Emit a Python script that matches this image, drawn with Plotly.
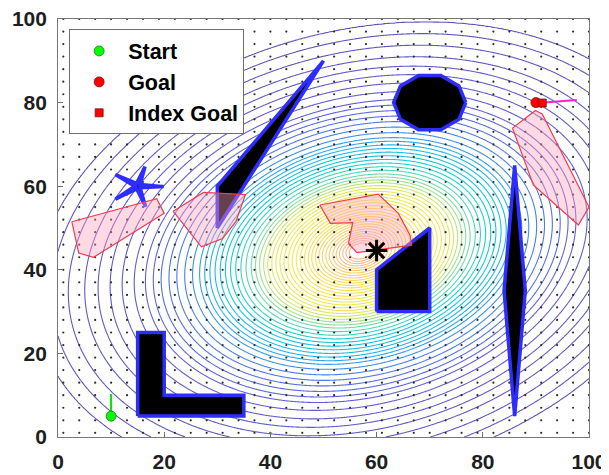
import numpy as np
import plotly.graph_objects as go

# ---------------- data ----------------
tick_vals = [0, 20, 40, 60, 80, 100]
tick_text = ["0", "20", "40", "60", "80", "100"]

# potential field (elliptical levels around the target)
field_center = (57.0, 44.5)
field_b = -0.2244          # cross term
field_c = 1.2506           # dy^2 weight (dx^2 weight = 1)
r_anchor = [0, 2, 5, 10, 20, 30, 40, 50, 60, 70]
level_anchor = [52.2, 52.2, 47.2, 39.5, 26.2, 15.7, 8.8, 4.3, 1.0, 0.0]

# background grid of dots
dot_ticks = [1, 4, 7, 10, 13, 16, 19, 22, 25, 28, 31, 34, 37, 40, 43, 46, 49,
             52, 55, 58, 61, 64, 67, 70, 73, 76, 79, 82, 85, 88, 91, 94, 97, 100]

start_x, start_y = [10], [5]
start_dir_x, start_dir_y = [10, 10], [5, 10.3]
goal_x, goal_y = [90.0], [80.0]
index_goal_x, index_goal_y = [91.2], [79.9]
goal_dir_x, goal_dir_y = [91.6, 97.7], [80.0, 80.6]
target_x, target_y = [60], [44.6]

# obstacles (black with blue border)
obs_L_x = [15, 35, 35, 20, 20, 15]
obs_L_y = [5, 5, 10, 10, 25, 25]
obs_trap_x = [60, 70, 70, 60]
obs_trap_y = [30, 30, 50, 40]
obs_diamond_x = [86, 88, 86, 84]
obs_diamond_y = [5, 35, 65, 35]
obs_wedge_x = [30, 30, 50]
obs_wedge_y = [50, 60, 90]
obs_round_x = [76.8, 75.5, 72.1, 67.9, 64.5, 63.2, 64.5, 67.9, 72.1, 75.5]
obs_round_y = [80.0, 84.0, 86.5, 86.5, 84.0, 80.0, 76.0, 73.5, 73.5, 76.0]
obs_star_x = [16.4, 15.46, 19.9, 15.47, 16.5, 14.82, 10.8, 14.44, 10.8, 14.8]
obs_star_y = [64.7, 60.41, 59.9, 59.6, 55.1, 59.32, 56.9, 59.99, 62.8, 60.67]

# pink regions
pinkA_x = [2.6, 18.6, 20.0, 6.7, 3.9]
pinkA_y = [51.5, 57.0, 53.5, 43.0, 44.0]
pinkB_x = [21.7, 27.4, 35.3, 33.5, 31.0, 27.0]
pinkB_y = [54.0, 58.5, 58.0, 51.5, 47.5, 45.5]
pinkC_x = [49.3, 60.3, 64.1, 66.3, 66.6, 56.3, 54.7, 55.5, 51.3]
pinkC_y = [55.5, 58.1, 53.5, 48.3, 45.9, 44.1, 46.3, 51.3, 51.1]
pinkD_x = [89.9, 85.6, 89.5, 98.0, 100.0, 91.2]
pinkD_y = [78.1, 73.9, 60.3, 50.7, 55.0, 77.3]

# ---------------- figure ----------------
FONT = "Liberation Sans, Arial, sans-serif"
fig = go.Figure()

gx = np.linspace(0, 100, 401)
gy = np.linspace(0, 100, 401)
X, Y = np.meshgrid(gx, gy)
dx = X - field_center[0]
dy = Y - field_center[1]
R = np.sqrt(np.maximum(dx**2 + 2*field_b*dx*dy + field_c*dy**2, 0))
Z = np.round(np.interp(R, r_anchor, level_anchor), 3)

cscale = [
    [0.00, "rgb(95,85,185)"],
    [0.15, "rgb(100,95,210)"],
    [0.24, "rgb(80,120,235)"],
    [0.33, "rgb(35,180,235)"],
    [0.42, "rgb(15,208,212)"],
    [0.50, "rgb(120,222,165)"],
    [0.58, "rgb(225,232,95)"],
    [0.70, "rgb(250,232,70)"],
    [0.86, "rgb(250,212,100)"],
    [1.00, "rgb(248,180,150)"],
]
fig.add_trace(go.Contour(
    x=gx, y=gy, z=Z, colorscale=cscale, zmin=0, zmax=52.2,
    contours=dict(coloring="lines", start=1, end=52, size=1),
    line=dict(width=1.1, smoothing=0.8), showscale=False,
    hoverinfo="skip", showlegend=False))

DX, DY = np.meshgrid(dot_ticks, dot_ticks)
fig.add_trace(go.Scatter(x=DX.ravel(), y=DY.ravel(), mode="markers",
                         marker=dict(size=2.2, color="rgb(45,45,45)"),
                         hoverinfo="skip", showlegend=False))

for ox, oy in [(obs_L_x, obs_L_y), (obs_trap_x, obs_trap_y),
               (obs_diamond_x, obs_diamond_y), (obs_wedge_x, obs_wedge_y),
               (obs_round_x, obs_round_y), (obs_star_x, obs_star_y)]:
    fig.add_trace(go.Scatter(x=ox + [ox[0]], y=oy + [oy[0]], mode="lines",
                             fill="toself", fillcolor="black",
                             line=dict(color="rgb(45,45,255)", width=3.5),
                             hoverinfo="skip", showlegend=False))

for px, py in [(pinkA_x, pinkA_y), (pinkB_x, pinkB_y),
               (pinkC_x, pinkC_y), (pinkD_x, pinkD_y)]:
    fig.add_trace(go.Scatter(x=px + [px[0]], y=py + [py[0]], mode="lines",
                             fill="toself", fillcolor="rgba(255,160,185,0.4)",
                             line=dict(color="rgb(240,60,80)", width=1.2),
                             hoverinfo="skip", showlegend=False))

fig.add_trace(go.Scatter(x=target_x, y=target_y, mode="markers",
                         marker=dict(symbol="asterisk-open", size=18, color="black",
                                     line=dict(color="black", width=3)),
                         hoverinfo="skip", showlegend=False))

fig.add_trace(go.Scatter(x=start_dir_x, y=start_dir_y, mode="lines",
                         line=dict(color="rgb(0,230,0)", width=2),
                         hoverinfo="skip", showlegend=False))
fig.add_trace(go.Scatter(x=goal_dir_x, y=goal_dir_y, mode="lines",
                         line=dict(color="rgb(255,30,210)", width=2),
                         hoverinfo="skip", showlegend=False))

fig.add_trace(go.Scatter(x=start_x, y=start_y, mode="markers", name="Start",
                         marker=dict(symbol="circle", size=10, color="rgb(0,255,0)",
                                     line=dict(color="rgb(30,120,30)", width=0.8))))
fig.add_trace(go.Scatter(x=goal_x, y=goal_y, mode="markers", name="Goal",
                         marker=dict(symbol="circle", size=10, color="rgb(255,0,0)",
                                     line=dict(color="rgb(120,20,20)", width=0.8))))
fig.add_trace(go.Scatter(x=index_goal_x, y=index_goal_y, mode="markers", name="Index Goal",
                         marker=dict(symbol="square", size=8, color="rgb(255,0,0)",
                                     line=dict(color="rgb(120,20,20)", width=0.8))))

axis_common = dict(range=[0, 100], tickvals=tick_vals,
                   ticks="inside", ticklen=5, tickcolor="rgb(110,110,110)",
                   showline=True, linecolor="rgb(120,120,120)", linewidth=1,
                   mirror=True, showgrid=False, zeroline=False, automargin=False,
                   ticklabeloverflow="allow",
                   tickfont=dict(family=FONT, size=21, color="rgb(30,30,30)",
                                 weight="bold"))
fig.update_layout(
    width=601, height=467,
    margin=dict(l=50, r=20, t=11, b=38),
    paper_bgcolor="white", plot_bgcolor="white",
    xaxis=dict(axis_common, ticktext=tick_text, ticklabelstandoff=6),
    yaxis=dict(axis_common, ticktext=[t + "\u00a0" for t in tick_text]),
    showlegend=True,
    legend=dict(x=0.021, y=0.975, xanchor="left", yanchor="top",
                bgcolor="white", bordercolor="rgb(110,110,110)", borderwidth=1,
                font=dict(family=FONT, size=21.5, color="black", weight="bold"),
                itemwidth=48, tracegroupgap=0),
)
fig.write_html("out.html")
